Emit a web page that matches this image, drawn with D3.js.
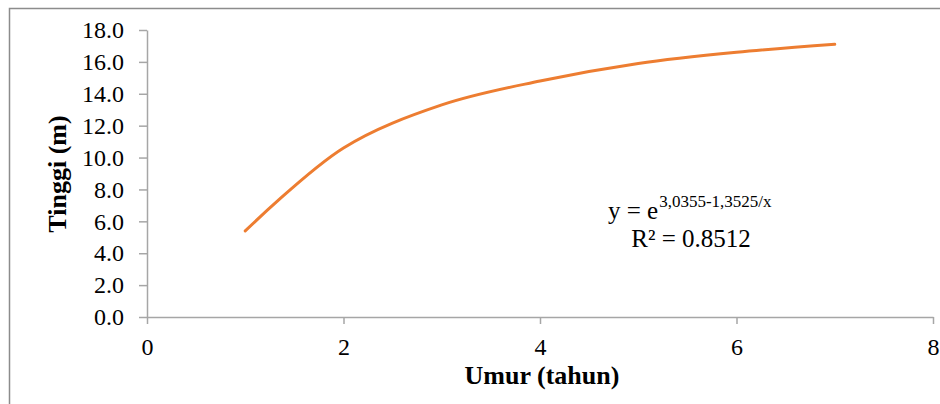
<!DOCTYPE html>
<html><head><meta charset="utf-8">
<script src="https://cdn.jsdelivr.net/npm/d3@7"></script>
<style>body{margin:0;background:#fff}svg{display:block} svg text{font-family:"Liberation Serif","Times New Roman",serif !important;}</style>
</head><body>
<svg id="c" width="940" height="404"></svg>
<script>
const ages = [1, 2, 3, 4, 5, 6, 7];
const heights = [5.4, 10.6, 13.3, 14.8, 15.9, 16.6, 17.1];
const xTicks = [0, 2, 4, 6, 8];
const yTicks = [0, 2, 4, 6, 8, 10, 12, 14, 16, 18];
const xTitle = "Umur (tahun)";
const yTitle = "Tinggi (m)";
const eqBase = "y = e";
const eqExp = "3,0355-1,3525/x";
const r2Text = "R² = 0.8512";

const svg = d3.select("#c");
const axisCol = "#a6a6a6";
const font = '"Liberation Serif", serif';

svg.append("path").attr("d", "M9.5,404 V8.5 H940").attr("fill", "none").attr("stroke", "#8c8c8c").attr("stroke-width", 1.5);

const x = d3.scaleLinear().domain([0, 8]).range([147, 933]);
const y = d3.scaleLinear().domain([0, 18]).range([317, 30]);

const gx = svg.append("g").attr("transform", "translate(0,317)")
  .call(d3.axisBottom(x).tickValues(xTicks).tickFormat(d3.format("d")).tickSizeInner(7).tickSizeOuter(0).tickPadding(14));
const gy = svg.append("g").attr("transform", "translate(147,0)")
  .call(d3.axisLeft(y).tickValues(yTicks).tickFormat(d3.format(".1f")).tickSizeInner(8).tickSizeOuter(0).tickPadding(15));
[gx, gy].forEach(g => {
  g.attr("font-family", font);
  g.select(".domain").attr("stroke", axisCol).attr("stroke-width", 1.5);
  g.selectAll(".tick line").attr("stroke", axisCol).attr("stroke-width", 1.5);
  g.selectAll(".tick text").attr("font-size", 24).attr("fill", "#000");
});

svg.append("text").attr("x", 542).attr("y", 384).attr("text-anchor", "middle").attr("font-family", font)
  .attr("font-size", 26).attr("font-weight", "bold").text(xTitle);
svg.append("text").attr("transform", "translate(66,174) rotate(-90)").attr("text-anchor", "middle").attr("font-family", font)
  .attr("font-size", 26).attr("font-weight", "bold").text(yTitle);

const line = d3.line().x((d, i) => x(ages[i])).y(d => y(d)).curve(d3.curveCatmullRom.alpha(0.5));
svg.append("path").datum(heights).attr("d", line).attr("fill", "none")
  .attr("stroke", "#ED7D31").attr("stroke-width", 3).attr("stroke-linecap", "round");

const eq = svg.append("text").attr("x", 608).attr("y", 219).attr("font-family", font)
  .attr("font-size", 25).attr("fill", "#000");
eq.append("tspan").text(eqBase);
eq.append("tspan").attr("dx", 1).attr("dy", -12).attr("font-size", 17).text(eqExp);
svg.append("text").attr("x", 691).attr("y", 247).attr("text-anchor", "middle").attr("font-family", font)
  .attr("font-size", 25).attr("fill", "#000").text(r2Text);
</script>
</body></html>
